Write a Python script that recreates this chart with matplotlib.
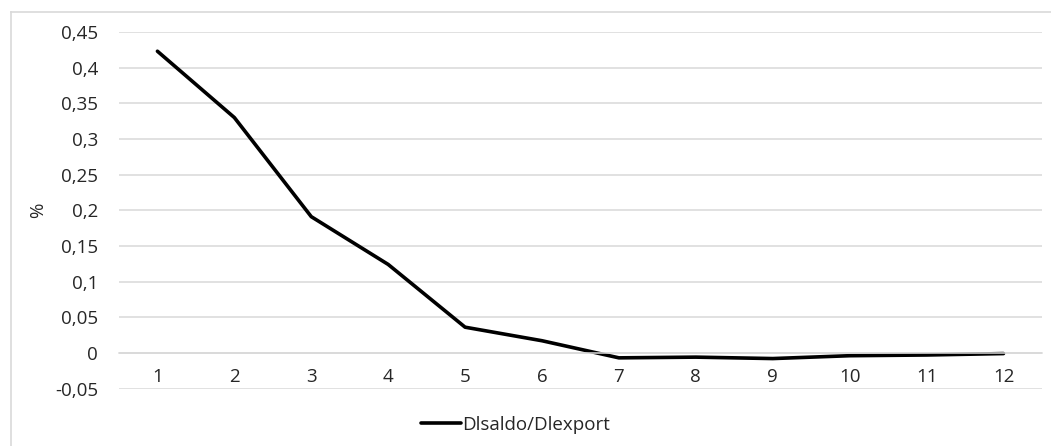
import matplotlib.pyplot as plt
from matplotlib.lines import Line2D
from matplotlib.ticker import FuncFormatter, MultipleLocator

# Datos
periodos = list(range(1, 13))
valores = [0.423, 0.330, 0.191, 0.124, 0.036, 0.017,
           -0.007, -0.006, -0.008, -0.004, -0.003, -0.001]
serie = "Dlsaldo/Dlexport"

gris = "#d9d9d9"
texto = "#262626"
fuente = "Open Sans"

fig = plt.figure(figsize=(10.51, 4.46), dpi=100)
ax = fig.add_axes([0.1132, 0.1289, 0.8782, 0.7994])

ax.plot(periodos, valores, color="black", lw=2.6, solid_joinstyle="round",
        solid_capstyle="round", label=serie)

ax.set_xlim(0.5, 12.5)
ax.set_ylim(-0.05, 0.45)
ax.yaxis.set_major_locator(MultipleLocator(0.05))
ax.yaxis.set_major_formatter(FuncFormatter(
    lambda v, p: "0" if abs(v) < 1e-9 else f"{v:.2f}".rstrip("0").replace(".", ",")))
ax.set_xticks(periodos)
ax.grid(axis="y", color=gris, lw=1.1)
ax.set_axisbelow(True)

for s in ["top", "right", "left"]:
    ax.spines[s].set_visible(False)
ax.spines["bottom"].set_position(("data", 0))
ax.spines["bottom"].set_color(gris)
ax.spines["bottom"].set_linewidth(1.1)

ax.tick_params(axis="both", length=0, labelsize=13.5, labelcolor=texto)
ax.tick_params(axis="x", pad=11)
ax.tick_params(axis="y", pad=15)
for lab in ax.get_xticklabels() + ax.get_yticklabels():
    lab.set_fontfamily(fuente)

ax.set_ylabel("%", fontsize=13.5, color=texto, fontfamily=fuente, labelpad=6)

# marco exterior del gráfico
fig.add_artist(Line2D([11 / 1051, 1], [1 - 12 / 446] * 2, color=gris, lw=1.2,
                      transform=fig.transFigure))
fig.add_artist(Line2D([11 / 1051] * 2, [0, 1 - 12 / 446], color=gris, lw=1.2,
                      transform=fig.transFigure))

fig.legend(loc="center", bbox_to_anchor=(0.4905, 0.047), frameon=False,
           handlelength=2.1, handletextpad=0.05,
           prop={"family": fuente, "size": 13.5})
for t in fig.legends[0].get_texts():
    t.set_color(texto)

fig.savefig("out.png", dpi=100)
